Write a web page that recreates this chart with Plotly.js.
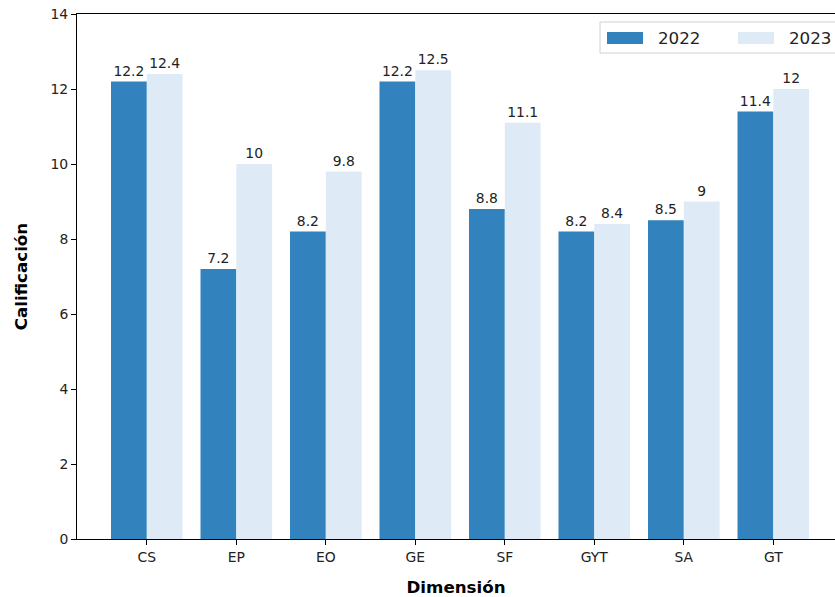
<!DOCTYPE html>
<html>
<head>
<meta charset="utf-8">
<script src="https://cdn.plot.ly/plotly-3.0.1.min.js"></script>
<style>html,body{margin:0;padding:0;background:#fff;}#chart{width:835px;height:597px;}</style>
</head>
<body>
<div id="chart"></div>
<script>
const categories = ["CS", "EP", "EO", "GE", "SF", "GYT", "SA", "GT"];
const values2022 = [12.2, 7.2, 8.2, 12.2, 8.8, 8.2, 8.5, 11.4];
const values2023 = [12.4, 10, 9.8, 12.5, 11.1, 8.4, 9, 12];
const seriesNames = ["2022", "2023"];
const yTicks = [0, 2, 4, 6, 8, 10, 12, 14];

const W = 835, H = 597;
const L = 77, R = 0, T = 14, B = 58;
const pw = W - L - R, ph = H - T - B;
const px = v => (v - L) / pw;
const py = v => (H - B - v) / ph;

const font = "DejaVu Sans, sans-serif";
const colors = ["#3182bd", "#deebf7"];

const traces = [values2022, values2023].map((vals, i) => ({
  type: "bar",
  name: seriesNames[i],
  x: categories.map((c, k) => k),
  y: vals,
  marker: {color: colors[i], line: {width: 0}},
  text: vals.map(v => String(v)),
  textposition: "outside",
  cliponaxis: false,
  textfont: {family: font, size: 13.9, color: "#222"},
  showlegend: false,
  hoverinfo: "skip"
}));

const shapes = [
  // legend frame
  {type: "rect", xref: "paper", yref: "paper", x0: px(600), x1: px(845), y0: py(53), y1: py(22),
   line: {color: "#d0d0d0", width: 1}, fillcolor: "rgba(255,255,255,0.85)", layer: "above"},
  {type: "rect", xref: "paper", yref: "paper", x0: px(607), x1: px(643), y0: py(44), y1: py(32),
   line: {width: 0}, fillcolor: colors[0], layer: "above"},
  {type: "rect", xref: "paper", yref: "paper", x0: px(738), x1: px(774), y0: py(44), y1: py(32),
   line: {width: 0}, fillcolor: colors[1], layer: "above"}
];
const annotations = [
  {xref: "paper", yref: "paper", x: px(656), y: py(38), xanchor: "left", yanchor: "middle",
   text: seriesNames[0], showarrow: false, font: {family: font, size: 16.7, color: "#222"}},
  {xref: "paper", yref: "paper", x: px(787), y: py(38), xanchor: "left", yanchor: "middle",
   text: seriesNames[1], showarrow: false, font: {family: font, size: 16.7, color: "#222"}}
];

const layout = {
  width: W, height: H,
  margin: {l: L, r: R, t: T, b: B, pad: 0},
  paper_bgcolor: "#fff", plot_bgcolor: "#fff",
  barmode: "group", bargap: 0.2, bargroupgap: 0,
  showlegend: false,
  font: {family: font, color: "#222"},
  xaxis: {
    range: [-0.78, -0.78 + pw / 89.5],
    tickmode: "array", tickvals: categories.map((c, k) => k), ticktext: categories,
    ticks: "outside", ticklen: 5, tickwidth: 1, tickcolor: "#000",
    showline: true, linecolor: "#000", linewidth: 1, mirror: true,
    showgrid: false, zeroline: false,
    tickfont: {family: font, size: 13.9, color: "#222"},
    title: {text: "<b>Dimensión</b>", standoff: 20, font: {family: font, size: 16.7, color: "#000"}}
  },
  yaxis: {
    range: [0, 14],
    tickmode: "array", tickvals: yTicks,
    ticks: "outside", ticklen: 5, tickwidth: 1, tickcolor: "#000",
    showline: true, linecolor: "#000", linewidth: 1,
    showgrid: false, zeroline: false,
    tickfont: {family: font, size: 13.9, color: "#222"},
    title: {text: "<b>Calificación</b>", standoff: 18, font: {family: font, size: 16.7, color: "#000"}}
  },
  shapes: shapes,
  annotations: annotations
};

Plotly.newPlot("chart", traces, layout, {displayModeBar: false, staticPlot: true});
</script>
</body>
</html>
